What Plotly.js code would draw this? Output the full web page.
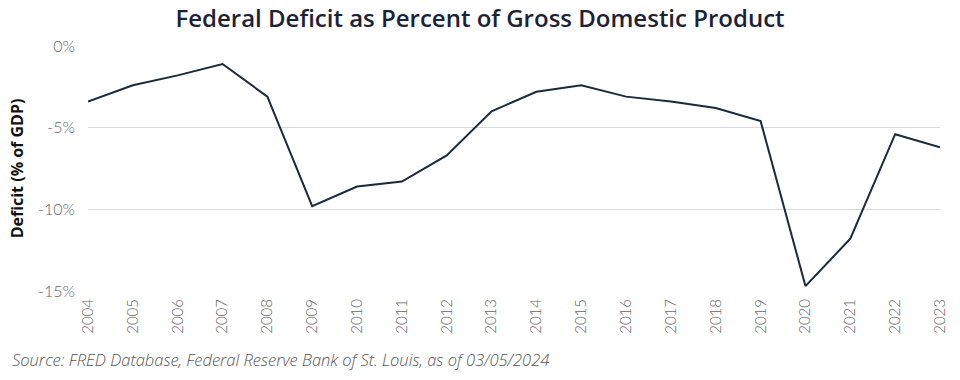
<!DOCTYPE html>
<html>
<head>
<meta charset="utf-8">
<script src="https://cdn.plot.ly/plotly-3.0.1.min.js"></script>
<style>html,body{margin:0;padding:0;background:#fff;}#chart{width:960px;height:380px;}</style>
</head>
<body>
<div id="chart"></div>
<script>
const years = [2004,2005,2006,2007,2008,2009,2010,2011,2012,2013,2014,2015,2016,2017,2018,2019,2020,2021,2022,2023];
const deficitPct = [-3.4,-2.4,-1.8,-1.1,-3.1,-9.8,-8.6,-8.3,-6.7,-4.0,-2.8,-2.4,-3.1,-3.4,-3.8,-4.6,-14.7,-11.8,-5.4,-6.2];
const yTickVals = [0,-5,-10,-15];
const yTickText = ['0%','-5%','-10%','-15%'];

const trace = {
  x: years, y: deficitPct, type: 'scatter', mode: 'lines',
  line: {color: '#1b2a3b', width: 2}, hoverinfo: 'skip', cliponaxis: false
};

const layout = {
  width: 960, height: 380,
  margin: {l: 88, r: 20, t: 46, b: 89},
  paper_bgcolor: '#fff', plot_bgcolor: '#fff',
  showlegend: false,
  font: {family: 'Lato, "Open Sans", sans-serif'},
  title: {
    text: 'Federal Deficit as Percent of Gross Domestic Product',
    x: 0.5, xanchor: 'center', xref: 'container', y: 0.95, yanchor: 'middle', yref: 'container',
    font: {family: '"Open Sans", sans-serif', size: 24, color: '#1c2336', weight: 600}
  },
  xaxis: {
    range: [2004, 2023], tickvals: years, ticktext: years.map(String),
    tickangle: -90, showgrid: false, zeroline: false, showline: false, ticks: '',
    tickfont: {family: 'Lato, sans-serif', size: 15, color: '#666', weight: 300},
    ticklabelstandoff: 4
  },
  yaxis: {
    range: [-15, 0], tickvals: yTickVals, ticktext: yTickText,
    showgrid: true, gridcolor: '#d9d9d9', gridwidth: 1,
    zeroline: false, showline: false, ticks: '',
    tickfont: {family: 'Lato, sans-serif', size: 16, color: '#666', weight: 300},
    ticklabelstandoff: 12,
    title: {text: 'Deficit (% of GDP)', standoff: 10,
      font: {family: '"Open Sans", sans-serif', size: 16, color: '#111', weight: 700}}
  },
  annotations: [{
    text: 'Source: FRED Database, Federal Reserve Bank of St. Louis, as of 03/05/2024',
    xref: 'paper', yref: 'paper', x: -88/852, y: -0.225, xanchor: 'left', yanchor: 'top',
    showarrow: false, xshift: 10,
    font: {family: '"Open Sans", sans-serif', size: 16.5, color: '#555', style: 'italic', weight: 300}
  }]
};

Plotly.newPlot('chart', [trace], layout, {staticPlot: true, displayModeBar: false});
</script>
</body>
</html>
